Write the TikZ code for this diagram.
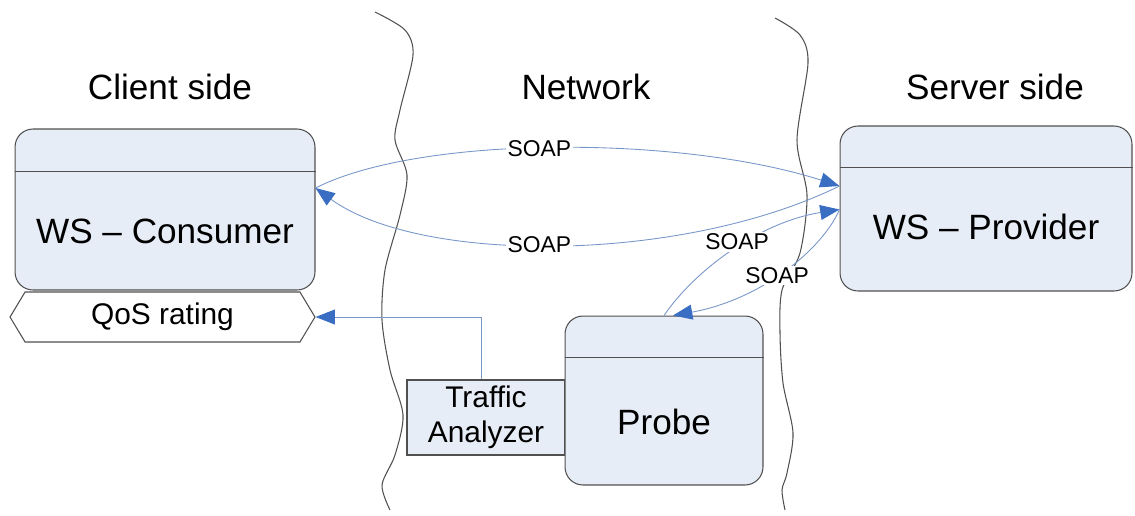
\documentclass[tikz,border=0pt]{standalone}
\usepackage{fontspec}
\setmainfont{Liberation Sans}
\usetikzlibrary{arrows.meta, positioning, calc, shapes.symbols}

\definecolor{boxfill}{RGB}{231,237,247}
\definecolor{boxline}{RGB}{80,80,80}
\definecolor{linkblue}{RGB}{120,150,200}
\definecolor{tipblue}{RGB}{58,110,195}

\begin{document}
\begin{tikzpicture}[
        x=0.02cm, y=-0.02cm,
        wsbox/.style={rectangle, rounded corners=0.36cm, draw=boxline, fill=boxfill, line width=0.6pt},
        tabox/.style={rectangle, draw=boxline, fill=boxfill, line width=0.6pt, align=center, font=\fontsize{17}{20}\selectfont},
        qosbox/.style={signal, signal to=west and east, signal pointer angle=118, draw=boxline, fill=white, line width=0.6pt, font=\fontsize{17}{20}\selectfont},
        heading/.style={anchor=base, font=\fontsize{20}{24}\selectfont},
        bigtext/.style={font=\fontsize{20}{24}\selectfont},
        soap/.style={fill=white, inner sep=1pt, font=\fontsize{13}{15}\selectfont},
        link/.style={draw=linkblue, line width=0.5pt, -{Triangle[length=11pt, width=8.5pt, color=tipblue]}},
        wave/.style={draw=boxline, line width=0.6pt}
    ]
    \useasboundingbox (0,0) rectangle (1135,515);

    % Borders between the sides
    \draw[wave] plot[smooth] coordinates {(375,12) (405,30) (413,55) (400,110) (395,140) (407,175) (400,215) (385,270) (382,320) (390,370) (403,415) (395,455) (382,485) (390,510)};
    \draw[wave] plot[smooth] coordinates {(775,18) (800,35) (808,63) (797,140) (807,195) (800,253) (782,290) (780,333) (783,383) (793,433) (787,473) (782,490) (785,510)};

    % Headings
    \node[heading] (client) at (170,99) {Client side};
    \node[heading] (network) at (586,99) {Network};
    \node[heading] (server) at (995,99) {Server side};

    % Nodes
    \node[wsbox, minimum width=6cm, minimum height=3.22cm] (consumer) at (165,209.5) {};
    \draw[boxline, line width=0.6pt] ([yshift=-0.86cm]consumer.north west) -- ([yshift=-0.86cm]consumer.north east);
    \node[bigtext] (consumertxt) at (165,231) {WS – Consumer};

    \node[wsbox, minimum width=5.84cm, minimum height=3.3cm] (provider) at (986,208.5) {};
    \draw[boxline, line width=0.6pt] ([yshift=-0.84cm]provider.north west) -- ([yshift=-0.84cm]provider.north east);
    \node[bigtext] (providertxt) at (986,227) {WS – Provider};

    \node[qosbox, minimum width=6.1cm, minimum height=1cm] (qos) at (162.5,317) {QoS rating};

    \node[tabox, minimum width=3.16cm, minimum height=1.5cm] (analyzer) at (486,417.5) {Traffic\\Analyzer};
    \node[wsbox, minimum width=3.96cm, minimum height=3.38cm] (probe) at (664,400.5) {};
    \draw[boxline, line width=0.6pt] ([yshift=-0.84cm]probe.north west) -- ([yshift=-0.84cm]probe.north east);
    \node[bigtext] (probetxt) at (664,421.5) {Probe};

    \coordinate (cin) at ([yshift=0.43cm]consumer.east);
    \coordinate (pin1) at ([yshift=0.45cm]provider.west);
    \coordinate (pin2) at ([yshift=-0.02cm]provider.west);
    \coordinate (pout) at ([xshift=0.18cm]probe.north);

    % Connections
    \draw[link] (cin) .. controls (420,135) and (680,135) .. node[soap, pos=0.47] {SOAP} (pin1);
    \draw[link] (pin1) .. controls (680,264) and (420,264) .. node[soap, pos=0.53] {SOAP} (cin);
    \draw[link] (probe.north) .. controls (695,270) and (760,222) .. node[soap, pos=0.52, yshift=0.12cm] {SOAP} (pin2);
    \draw[link] (pin2) .. controls (822,250) and (760,300) .. node[soap, pos=0.53] {SOAP} (pout);
    \draw[link] ([xshift=-0.1cm]analyzer.north) |- (qos.east);

\end{tikzpicture}
\end{document}
